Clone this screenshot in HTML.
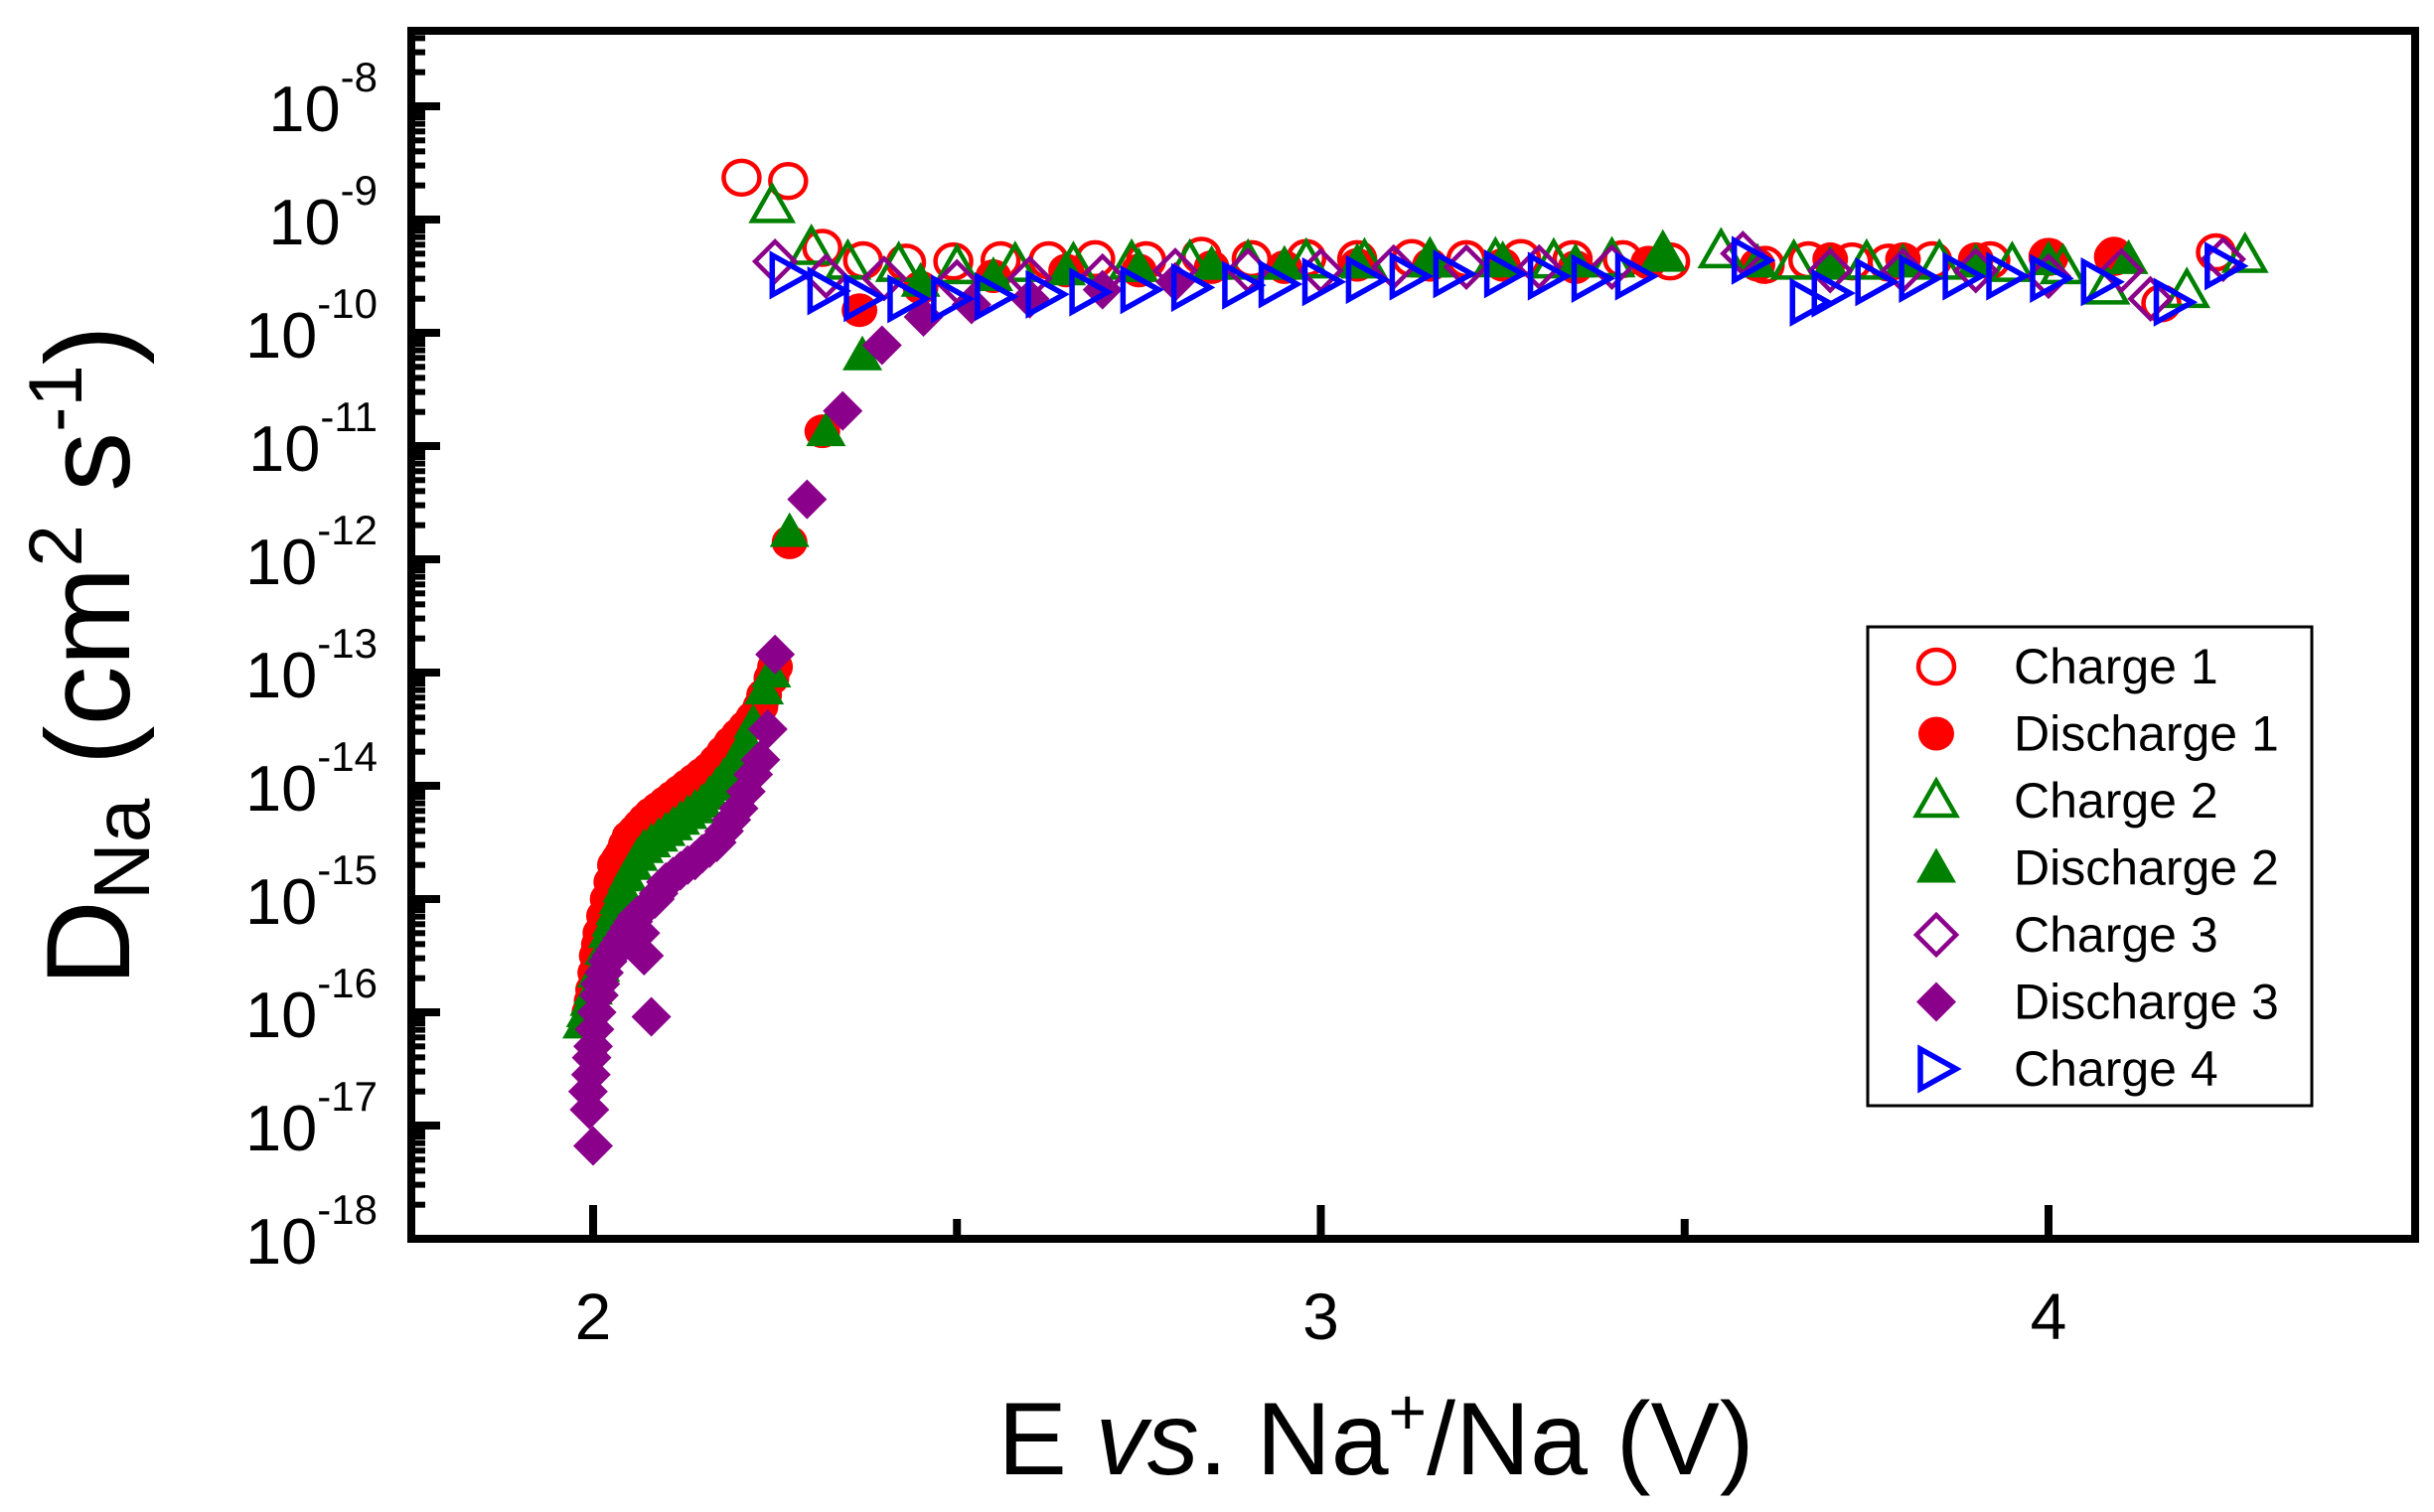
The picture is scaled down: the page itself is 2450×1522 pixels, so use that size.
<!DOCTYPE html>
<html><head><meta charset="utf-8"><style>
html,body{margin:0;padding:0;background:#fff;}
svg{display:block;font-family:"Liberation Sans",sans-serif;}
</style></head><body>
<svg id="chart" width="2450" height="1522" viewBox="0 0 2450 1522" xmlns="http://www.w3.org/2000/svg">
<g id="axes"></g>
<g id="marks"></g>
<text x="1385" y="1484" font-size="104" text-anchor="middle">E <tspan font-style="italic">vs</tspan>. Na<tspan dy="-40" font-size="66">+</tspan><tspan dy="40">/Na (V)</tspan></text>
<text transform="translate(130,660) rotate(-90)" font-size="120" text-anchor="middle">D<tspan dy="20" font-size="80">Na</tspan><tspan dy="-20"> (cm</tspan><tspan dy="-48" font-size="76">2</tspan><tspan dy="48"> s</tspan><tspan dy="-48" font-size="76">-1</tspan><tspan dy="48">)</tspan></text>
<g id="legend"></g>
</svg>
<script>
const xTicks=[2,3,4];
const xMinor=[2.5,3.5];
const yDecades=[-18,-17,-16,-15,-14,-13,-12,-11,-10,-9,-8];
const seriesNames=["Charge 1","Discharge 1","Charge 2","Discharge 2","Charge 3","Discharge 3","Charge 4"];
const c1x=[2.204,2.268,2.315,2.371,2.43,2.495,2.56,2.626,2.69,2.76,2.836,2.905,2.98,3.05,3.125,3.2,3.275,3.346,3.415,3.48,3.61,3.67,3.73,3.78,3.84,3.92,4.0,4.09,4.155,4.23];
const c1y=[-8.63,-8.66,-9.25,-9.36,-9.38,-9.37,-9.36,-9.36,-9.35,-9.36,-9.32,-9.35,-9.34,-9.35,-9.34,-9.35,-9.34,-9.35,-9.35,-9.37,-9.4,-9.36,-9.37,-9.38,-9.36,-9.36,-9.33,-9.33,-9.74,-9.29];
const d1x=[1.995,1.998,2.0,2.003,2.005,2.008,2.01,2.015,2.02,2.025,2.03,2.035,2.04,2.045,2.05,2.058,2.065,2.072,2.08,2.09,2.1,2.11,2.12,2.13,2.14,2.15,2.16,2.17,2.18,2.19,2.2,2.21,2.22,2.23,2.235,2.245,2.25,2.27,2.315,2.366,2.45,2.55,2.65,2.75,2.85,2.95,3.05,3.15,3.25,3.35,3.45,3.6,3.7,3.8,3.9,4.0,4.09];
const d1y=[-16.0,-15.9,-15.8,-15.65,-15.5,-15.4,-15.3,-15.15,-15.0,-14.85,-14.7,-14.65,-14.6,-14.52,-14.45,-14.4,-14.35,-14.3,-14.25,-14.2,-14.15,-14.1,-14.05,-14.0,-13.95,-13.9,-13.85,-13.78,-13.7,-13.62,-13.55,-13.48,-13.4,-13.3,-13.2,-13.05,-12.95,-11.85,-10.87,-9.8,-9.6,-9.5,-9.45,-9.45,-9.42,-9.42,-9.4,-9.4,-9.4,-9.42,-9.38,-9.4,-9.35,-9.35,-9.35,-9.32,-9.3];
const c2x=[2.246,2.3,2.35,2.42,2.5,2.58,2.66,2.74,2.82,2.9,2.98,3.06,3.15,3.24,3.32,3.4,3.47,3.55,3.65,3.75,3.85,3.95,4.02,4.08,4.19,4.27];
const c2y=[-8.88,-9.25,-9.38,-9.4,-9.42,-9.4,-9.4,-9.38,-9.38,-9.38,-9.37,-9.37,-9.36,-9.36,-9.37,-9.36,-9.3,-9.28,-9.38,-9.38,-9.38,-9.4,-9.42,-9.6,-9.63,-9.32];
const d2x=[1.985,1.99,1.995,2.0,2.005,2.01,2.015,2.02,2.025,2.03,2.035,2.04,2.047,2.055,2.062,2.07,2.08,2.09,2.1,2.11,2.12,2.13,2.14,2.15,2.16,2.17,2.18,2.19,2.2,2.21,2.22,2.235,2.245,2.27,2.32,2.37,2.45,2.55,2.65,2.75,2.85,2.95,3.05,3.15,3.25,3.35,3.47,3.6,3.7,3.8,3.9,4.0,4.11];
const d2y=[-16.1,-16.0,-15.9,-15.8,-15.65,-15.6,-15.45,-15.3,-15.2,-15.1,-15.0,-14.9,-14.8,-14.7,-14.62,-14.55,-14.5,-14.45,-14.4,-14.35,-14.3,-14.25,-14.2,-14.15,-14.08,-14.0,-13.92,-13.85,-13.72,-13.6,-13.45,-13.15,-13.0,-11.76,-10.87,-10.2,-9.55,-9.5,-9.45,-9.42,-9.4,-9.4,-9.38,-9.38,-9.36,-9.38,-9.33,-9.38,-9.4,-9.38,-9.38,-9.36,-9.35];
const c3x=[2.25,2.32,2.4,2.5,2.6,2.7,2.8,2.9,3.0,3.1,3.2,3.3,3.4,3.58,3.7,3.8,3.9,4.0,4.1,4.14,4.24];
const c3y=[-9.37,-9.5,-9.52,-9.55,-9.52,-9.5,-9.45,-9.45,-9.45,-9.42,-9.42,-9.42,-9.42,-9.3,-9.45,-9.45,-9.45,-9.5,-9.45,-9.7,-9.35];
const d3x=[2.0,1.995,1.993,1.997,1.998,2.0,2.002,2.005,2.008,2.01,2.015,2.02,2.025,2.03,2.035,2.04,2.045,2.05,2.055,2.06,2.065,2.07,2.08,2.085,2.09,2.1,2.11,2.12,2.13,2.14,2.15,2.16,2.17,2.18,2.19,2.2,2.21,2.22,2.23,2.24,2.25,2.294,2.343,2.397,2.454,2.52,2.6,2.7,2.8];
const d3y=[-17.18,-16.86,-16.7,-16.55,-16.4,-16.3,-16.15,-16.0,-15.85,-15.75,-15.65,-15.55,-15.5,-15.45,-15.4,-15.35,-15.3,-15.25,-15.2,-15.15,-15.3,-15.5,-16.04,-15.0,-14.95,-14.85,-14.8,-14.75,-14.7,-14.66,-14.6,-14.55,-14.5,-14.4,-14.3,-14.2,-14.05,-13.9,-13.77,-13.5,-12.84,-11.47,-10.69,-10.11,-9.86,-9.75,-9.7,-9.62,-9.55];
const c4x=[2.268,2.32,2.37,2.43,2.49,2.55,2.62,2.68,2.75,2.82,2.89,2.94,3.0,3.06,3.12,3.18,3.25,3.31,3.37,3.43,3.59,3.67,3.7,3.76,3.82,3.88,3.94,4.0,4.07,4.17,4.24];
const c4y=[-9.49,-9.63,-9.69,-9.7,-9.7,-9.68,-9.66,-9.64,-9.62,-9.6,-9.58,-9.57,-9.55,-9.53,-9.5,-9.48,-9.48,-9.5,-9.52,-9.5,-9.36,-9.73,-9.65,-9.55,-9.52,-9.5,-9.5,-9.52,-9.55,-9.73,-9.41];

const NS="http://www.w3.org/2000/svg";
const L=414,R=2431,T=31,B=1247;
function xs(v){return 597+(v-2)*732.5;}
function ys(l){return 107+(-8-l)*114;}
function mk(tag,attrs,parent){const e=document.createElementNS(NS,tag);for(const k in attrs)e.setAttribute(k,attrs[k]);parent.appendChild(e);return e;}
const axes=document.getElementById('axes');
const frame=mk('rect',{x:L,y:T,width:R-L,height:B-T,fill:'none',stroke:'#000','stroke-width':8},axes);


xTicks.forEach(v=>{
  const t=mk('line',{x1:xs(v),x2:xs(v),y1:B,y2:B-34,stroke:'#000','stroke-width':8},axes);
  
  
  const lb=mk('text',{x:xs(v),y:1348,'font-size':66,'text-anchor':'middle'},axes);
  lb.textContent=v;
  
  
});
xMinor.forEach(v=>{
  const t=mk('line',{x1:xs(v),x2:xs(v),y1:B,y2:B-20,stroke:'#000','stroke-width':8},axes);
  
  
});
yDecades.forEach(d=>{
  const y=ys(d);
  const t=mk('line',{x1:L,x2:443,y1:y,y2:y,stroke:'#000','stroke-width':8},axes);
  
  
  const lb=mk('text',{x:380,y:y+25,'font-size':65,'text-anchor':'end'},axes);
  lb.innerHTML='10<tspan dy="-40" font-size="42">'+d+'</tspan>';
  
  
  for(let m=2;m<=9;m++){
    const yy=ys(d+Math.log10(m));
    if(yy<T+4||yy>B-4)continue;
    const mt=mk('line',{x1:L,x2:428,y1:yy,y2:yy,stroke:'#000','stroke-width':6},axes);
    
    
  }
});
const marks=document.getElementById('marks');
function marker(type,x,y,g,s){
  const r=20;let e;
  if(type==='circle-open')e=mk('ellipse',{cx:x,cy:y,rx:r*0.9,ry:r*0.85,fill:'none',stroke:'#f00','stroke-width':4.5},g);
  else if(type==='circle-fill')e=mk('ellipse',{cx:x,cy:y,rx:r*0.9,ry:r*0.85,fill:'#f00'},g);
  else if(type==='tri-open')e=mk('polygon',{points:`${x},${y-r} ${x-r},${y+r*0.75} ${x+r},${y+r*0.75}`,fill:'none',stroke:'#008000','stroke-width':4.5},g);
  else if(type==='tri-fill')e=mk('polygon',{points:`${x},${y-r} ${x-r},${y+r*0.75} ${x+r},${y+r*0.75}`,fill:'#008000'},g);
  else if(type==='dia-open')e=mk('polygon',{points:`${x},${y-r} ${x+r},${y} ${x},${y+r} ${x-r},${y}`,fill:'none',stroke:'#8b008b','stroke-width':4.5},g);
  else if(type==='dia-fill')e=mk('polygon',{points:`${x},${y-r} ${x+r},${y} ${x},${y+r} ${x-r},${y}`,fill:'#8b008b'},g);
  else e=mk('polygon',{points:`${x-r*0.8},${y-r} ${x+r},${y} ${x-r*0.8},${y+r}`,fill:'none',stroke:'#00f','stroke-width':5.5},g);
  
  
  return e;
}
const series=[[c1x,c1y,'circle-open'],[d1x,d1y,'circle-fill'],[c2x,c2y,'tri-open'],[d2x,d2y,'tri-fill'],[c3x,c3y,'dia-open'],[d3x,d3y,'dia-fill'],[c4x,c4y,'tri-right']];
series.forEach((s,i)=>{
  const g=mk('g',{},marks);
  
  
  s[0].forEach((v,j)=>marker(s[2],xs(v),ys(s[1][j]),g,'point'));
});
const lg=document.getElementById('legend');
const box=mk('rect',{x:1880,y:631,width:447,height:482,fill:'#fff',stroke:'#000','stroke-width':3},lg);


seriesNames.forEach((n,i)=>{
  const y=671+i*67.5;
  const g=mk('g',{},lg);
  
  
  marker(series[i][2],1949,y,g,'legend-marker');
  const t=mk('text',{x:2027,y:y+17,'font-size':50},g);
  t.textContent=n;
  
  
});
</script>
</body></html>
